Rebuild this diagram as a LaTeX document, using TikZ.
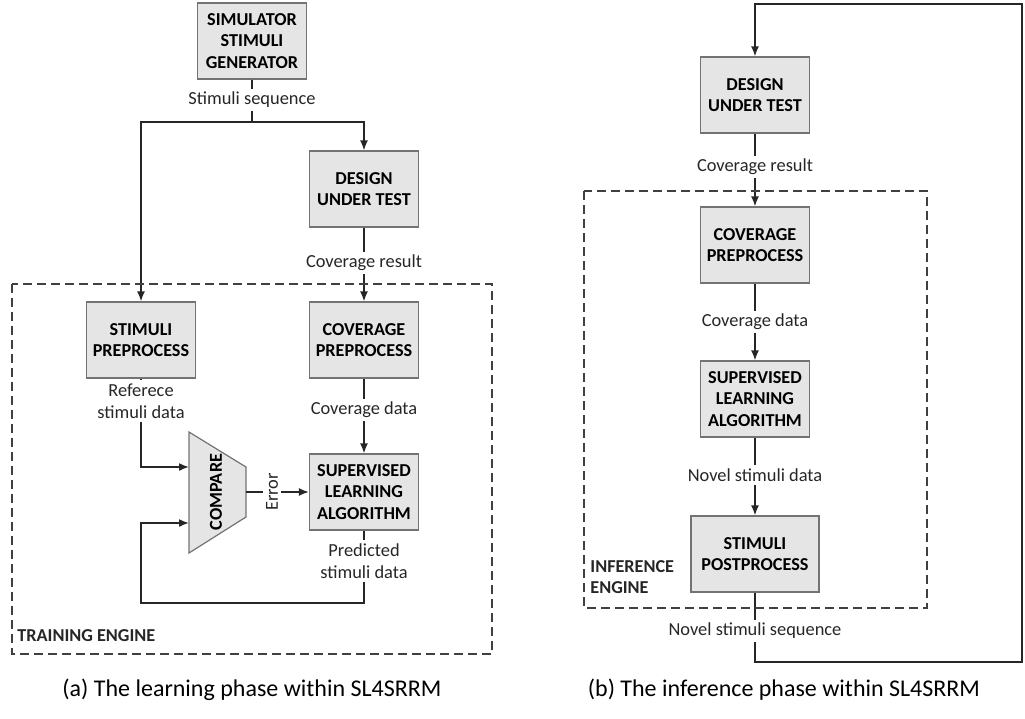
\documentclass[tikz,border=0pt]{standalone}
\usepackage{fontspec}
\setmainfont{Carlito}
\usetikzlibrary{arrows.meta}
\tikzset{% change default arrow tips
    >={Latex[length=5pt,width=4pt]}
}
\tikzset{
    block/.style={draw=black!55, fill=black!10, line width=0.6pt, font=\fontsize{9.1}{10.8}\selectfont\bfseries,
        align=center, minimum width=54.5pt, minimum height=38pt, inner sep=2pt},
    lbl/.style={align=center, inner sep=1.5pt, text=black!85},
    engine/.style={draw=black!75, line width=0.9pt, dash pattern=on 4.5pt off 2.5pt},
    wire/.style={draw=black!85, line width=0.8pt}
}

\begin{document}
\begin{tikzpicture}[x=0.5pt, y=-0.5pt, font=\fontsize{9.2}{10.8}\selectfont]
    \newcommand{\xStim}{141}
    \newcommand{\xCov}{364}
    \newcommand{\xInf}{755}

    \useasboundingbox (0,0) rectangle (1025,719);

    % learning phase

    % blocks
    \node[block] (ssg) at (252,41) {SIMULATOR\\STIMULI\\GENERATOR};
    \node[lbl] (seq) at (252,100) {Stimuli sequence};
    \coordinate (split) at (252,122);
    \node[block] (dutA) at (\xCov,189) {DESIGN\\UNDER TEST};
    \node[lbl] (covresA) at (\xCov,263) {Coverage result};
    \node[block] (stpre) at (\xStim,340) {STIMULI\\PREPROCESS};
    \node[block] (covpreA) at (\xCov,340) {COVERAGE\\PREPROCESS};
    \node[lbl] (refdata) at (\xStim,401) {Referece\\stimuli data};
    \node[lbl] (covdataA) at (\xCov,410) {Coverage data};
    \node[block] (slaA) at (\xCov,492) {SUPERVISED\\LEARNING\\ALGORITHM};
    \node[lbl] (preddata) at (\xCov,561) {Predicted\\stimuli data};

    % compare unit
    \draw[draw=black!55, fill=black!10, line width=0.6pt] (189,432) -- (246,467) -- (246,517) -- (189,553) -- cycle;
    \node[rotate=90, font=\fontsize{9.1}{10.8}\selectfont\bfseries] (cmp) at (216,492) {COMPARE};
    \coordinate (cmpinA) at (189,467);
    \coordinate (cmpinB) at (189,523);
    \coordinate (cmpout) at (246,492);
    \node[lbl, rotate=90] (err) at (272,492) {Error};
    \coordinate (loopA) at (\xStim,603);

    % connectors
    \draw[wire] (ssg) -- (seq);
    \draw[wire] (seq) -- (split);
    \draw[wire,->] (split) -| (stpre);
    \draw[wire,->] (split) -| (dutA);
    \draw[wire] (dutA) -- (covresA);
    \draw[wire,->] (covresA) -- (covpreA);
    \draw[wire] (stpre) -- (refdata);
    \draw[wire,->] (refdata) |- (cmpinA);
    \draw[wire] (covpreA) -- (covdataA);
    \draw[wire,->] (covdataA) -- (slaA);
    \draw[wire] (cmpout) -- (err);
    \draw[wire,->] (err) -- (slaA);
    \draw[wire] (slaA) -- (preddata);
    \draw[wire,->] (preddata) |- (loopA) |- (cmpinB);

    % engine
    \draw[engine] (12,284) rectangle (492,654);
    \node[lbl, font=\fontsize{9.1}{10.8}\selectfont\bfseries, anchor=west] (trainlbl) at (14,636) {TRAINING ENGINE};

    \node[font=\fontsize{12}{14}\selectfont] (capA) at (252,690) {(a) The learning phase within SL4SRRM};

    % inference phase

    \node[block] (dutB) at (\xInf,95) {DESIGN\\UNDER TEST};
    \node[lbl] (covresB) at (\xInf,167) {Coverage result};
    \node[block] (covpreB) at (\xInf,245) {COVERAGE\\PREPROCESS};
    \node[lbl] (covdataB) at (\xInf,322) {Coverage data};
    \node[block] (slaB) at (\xInf,399) {SUPERVISED\\LEARNING\\ALGORITHM};
    \node[lbl] (noveldata) at (\xInf,475) {Novel stimuli data};
    \node[block, minimum width=64pt] (postpre) at (\xInf,554) {STIMULI\\POSTPROCESS};
    \node[lbl] (novelseq) at (\xInf,631) {Novel stimuli sequence};
    \coordinate (fbA) at (1022,662);
    \coordinate (fbB) at (1022,4);

    \draw[wire] (dutB) -- (covresB);
    \draw[wire,->] (covresB) -- (covpreB);
    \draw[wire] (covpreB) -- (covdataB);
    \draw[wire,->] (covdataB) -- (slaB);
    \draw[wire] (slaB) -- (noveldata);
    \draw[wire,->] (noveldata) -- (postpre);
    \draw[wire] (postpre) -- (novelseq);
    \draw[wire,->] (novelseq) |- (fbA) -- (fbB) -| (dutB);

    \draw[engine] (584,191) rectangle (927,608);
    \node[lbl, font=\fontsize{9.1}{10.8}\selectfont\bfseries, align=left, anchor=west] (inflbl) at (587,577) {INFERENCE\\ENGINE};

    \node[font=\fontsize{12}{14}\selectfont] (capB) at (784,690) {(b) The inference phase within SL4SRRM};

\end{tikzpicture}
\end{document}
